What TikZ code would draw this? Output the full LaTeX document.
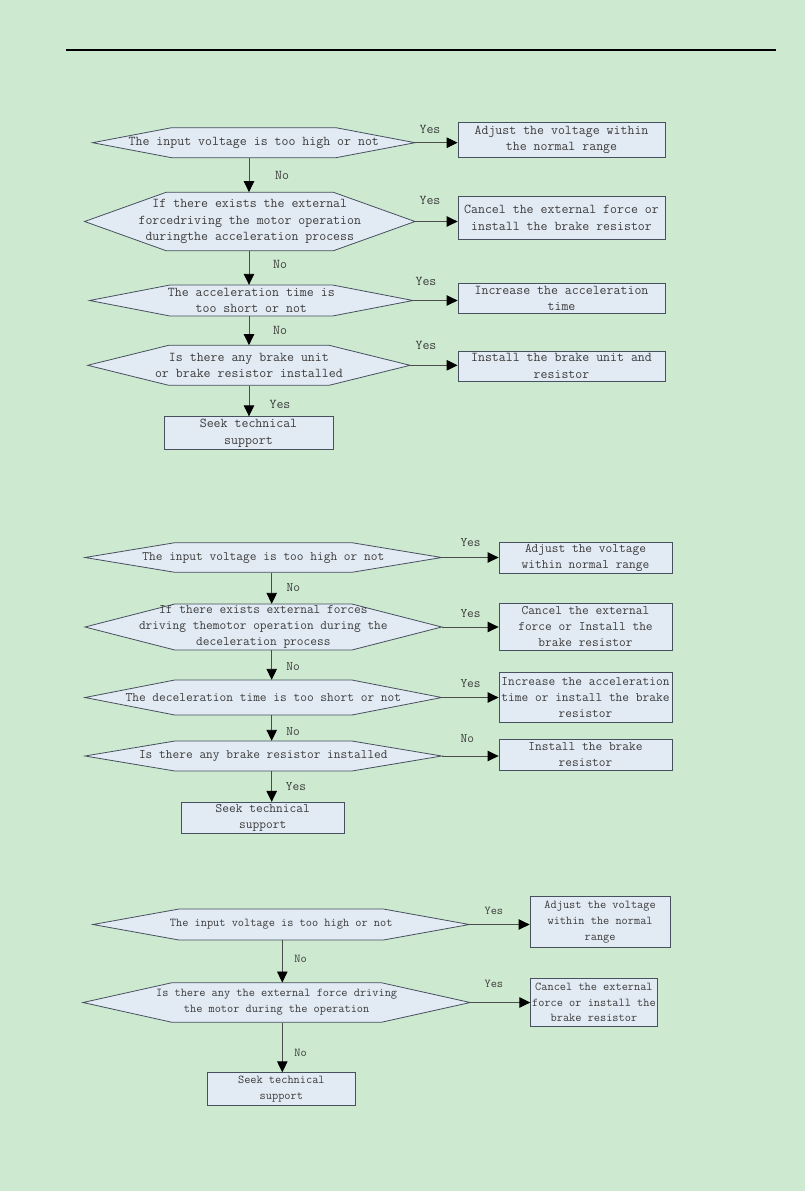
\documentclass[tikz,border=0pt]{standalone}
\usepackage{fontspec}
\usetikzlibrary{arrows.meta}
\definecolor{pagegreen}{RGB}{205,233,208}
\definecolor{boxfill}{RGB}{226,234,243}
\definecolor{boxedge}{RGB}{70,80,95}
\definecolor{inkgray}{RGB}{60,60,60}
\tikzset{
	f1/.style={font=\ttfamily\fontsize{13.5}{16.6}\selectfont, text=inkgray},
	f2/.style={font=\ttfamily\fontsize{13.05}{16.2}\selectfont, text=inkgray},
	f3/.style={font=\ttfamily\fontsize{12}{15.7}\selectfont, text=inkgray},
	hexline/.style={draw=boxedge, fill=boxfill, line width=0.8pt},
	box/.style={draw=boxedge, fill=boxfill, line width=0.8pt, inner sep=0pt, align=center},
	lbl/.style={inner sep=0pt},
	flow/.style={draw=black!70, line width=0.9pt, -{Triangle[length=11pt,width=10.5pt,color=black]}}
}
% hexagon decision: [font style](name)(cx,cy)(half width:half height:inset){text}
\def\decision[#1](#2)(#3,#4)(#5:#6:#7)#8{%
	\filldraw[hexline] ({#3-#5},#4) -- ({#3-#5+#7},{#4-#6}) -- ({#3+#5-#7},{#4-#6}) -- ({#3+#5},#4) -- ({#3+#5-#7},{#4+#6}) -- ({#3-#5+#7},{#4+#6}) -- cycle;
	\node[#1, inner sep=0pt, align=center, minimum width={2*#5}, minimum height={2*#6}] (#2) at (#3,#4) {#8};}

\begin{document}
\begin{tikzpicture}[x=1pt, y=-1pt]
		%%%%% START %%%%%
		\useasboundingbox (0,0) rectangle (805,1191);
		\fill[pagegreen] (0,0) rectangle (805,1191);
		\draw[line width=1.2pt] (66,50) -- (776,50);
		
		%%%%% chart 1 %%%%%
		\coordinate (sp1) at (249,0);
		\decision[f1](d11)(253.8,142.7)(161.2:15:79){The input voltage is too high or not}
		\decision[f1](d12)(249.8,221.5)(165.2:29.2:81.5){If there exists the external\\forcedriving the motor operation\\duringthe acceleration process}
		\decision[f1](d13)(251.3,300.5)(161.7:15.5:80.4){The acceleration time is\\too short or not}
		\decision[f1](d14)(248.9,365.3)(161.2:20:81){Is there any brake unit\\or brake resistor installed}
		
		\node[box, f1, minimum width=207, minimum height=35] (b11) at (561.5,139.8) {Adjust the voltage within\\the normal range};
		\node[box, f1, minimum width=207, minimum height=42.6] (b12) at (561.5,218) {Cancel the external force or\\install the brake resistor};
		\node[box, f1, minimum width=207, minimum height=30] (b13) at (561.5,298.3) {Increase the acceleration\\time};
		\node[box, f1, minimum width=207, minimum height=30] (b14) at (561.5,366) {Install the brake unit and\\resistor};
		\node[box, f1, minimum width=169, minimum height=32.6] (b15) at (248.5,433) {Seek technical\\support};
		
		\draw[flow] (d11.east) -- (d11.east -| b11.west);
		\draw[flow] (d12.east) -- (d12.east -| b12.west);
		\draw[flow] (d13.east) -- (d13.east -| b13.west);
		\draw[flow] (d14.east) -- (d14.east -| b14.west);
		\draw[flow] (d11.south -| sp1) -- (d12.north -| sp1);
		\draw[flow] (d12.south -| sp1) -- (d13.north -| sp1);
		\draw[flow] (d13.south -| sp1) -- (d14.north -| sp1);
		\draw[flow] (d14.south -| sp1) -- (b15.north -| sp1);
		
		\node[lbl, f1] (y11) at (430,129) {Yes};
		\node[lbl, f1] (y12) at (430,200) {Yes};
		\node[lbl, f1] (y13) at (426,281) {Yes};
		\node[lbl, f1] (y14) at (426,345) {Yes};
		\node[lbl, f1] (n11) at (282,175) {No};
		\node[lbl, f1] (n12) at (280,264) {No};
		\node[lbl, f1] (n13) at (280,330) {No};
		\node[lbl, f1] (y15) at (280,404) {Yes};
		
		%%%%% chart 2 %%%%%
		\coordinate (sp2) at (271.7,0);
		\decision[f2](d21)(263.35,557.5)(178.35:14.8:89.8){The input voltage is too high or not}
		\decision[f2](d22)(263.35,627)(178.35:23:89.8){If there exists external forces\\driving themotor operation during the\\deceleration process}
		\decision[f2](d23)(263.35,697.5)(178.35:17.5:89.8){The deceleration time is too short or not}
		\decision[f2](d24)(263.35,756)(178.35:15:89.8){Is there any brake resistor installed}
		
		\node[box, f2, minimum width=173, minimum height=30.6] (b21) at (585.5,558) {Adjust the voltage\\within normal range};
		\node[box, f2, minimum width=173, minimum height=46.7] (b22) at (585.5,626.7) {Cancel the external\\force or Install the\\brake resistor};
		\node[box, f2, minimum width=173, minimum height=49.6] (b23) at (585.5,697.5) {Increase the acceleration\\time or install the brake\\resistor};
		\node[box, f2, minimum width=173, minimum height=30.7] (b24) at (585.5,754.7) {Install the brake\\resistor};
		\node[box, f2, minimum width=162.5, minimum height=31] (b25) at (262.75,817.8) {Seek technical\\support};
		
		\draw[flow] (d21.east) -- (d21.east -| b21.west);
		\draw[flow] (d22.east) -- (d22.east -| b22.west);
		\draw[flow] (d23.east) -- (d23.east -| b23.west);
		\draw[flow] (d24.east) -- (d24.east -| b24.west);
		\draw[flow] (d21.south -| sp2) -- (d22.north -| sp2);
		\draw[flow] (d22.south -| sp2) -- (d23.north -| sp2);
		\draw[flow] (d23.south -| sp2) -- (d24.north -| sp2);
		\draw[flow] (d24.south -| sp2) -- (b25.north -| sp2);
		
		\node[lbl, f2] (y21) at (470.6,543) {Yes};
		\node[lbl, f2] (y22) at (470.6,614) {Yes};
		\node[lbl, f2] (y23) at (470.6,683.3) {Yes};
		\node[lbl, f2] (n24) at (467.4,738.3) {No};
		\node[lbl, f2] (n21) at (293.4,588) {No};
		\node[lbl, f2] (n22) at (293,666.7) {No};
		\node[lbl, f2] (n23) at (293,731.7) {No};
		\node[lbl, f2] (y25) at (296,786.7) {Yes};
		
		%%%%% chart 3 %%%%%
		\coordinate (sp3) at (282.3,0);
		\decision[f3](d31)(281.2,924.5)(188.2:15.5:86){The input voltage is too high or not}
		\decision[f3](d32)(276.6,1002.5)(193.6:19.8:89){Is there any the external force driving\\the motor during the operation}
		
		\node[box, f3, minimum width=140.2, minimum height=50.6] (b31) at (600.1,922) {Adjust the voltage\\within the normal\\range};
		\node[box, f3, minimum width=126.5, minimum height=48.4] (b32) at (593.95,1002.5) {Cancel the external\\force or install the\\brake resistor};
		\node[box, f3, minimum width=148.3, minimum height=32.3] (b33) at (281.35,1088.85) {Seek technical\\support};
		
		\draw[flow] (d31.east) -- (d31.east -| b31.west);
		\draw[flow] (d32.east) -- (d32.east -| b32.west);
		\draw[flow] (d31.south -| sp3) -- (d32.north -| sp3);
		\draw[flow] (d32.south -| sp3) -- (b33.north -| sp3);
		
		\node[lbl, f3] (y31) at (493.9,910.7) {Yes};
		\node[lbl, f3] (y32) at (493.9,984.3) {Yes};
		\node[lbl, f3] (n31) at (300.5,959.3) {No};
		\node[lbl, f3] (n32) at (300.5,1053.3) {No};
		%%%%% END %%%%%
\end{tikzpicture}
\end{document}
